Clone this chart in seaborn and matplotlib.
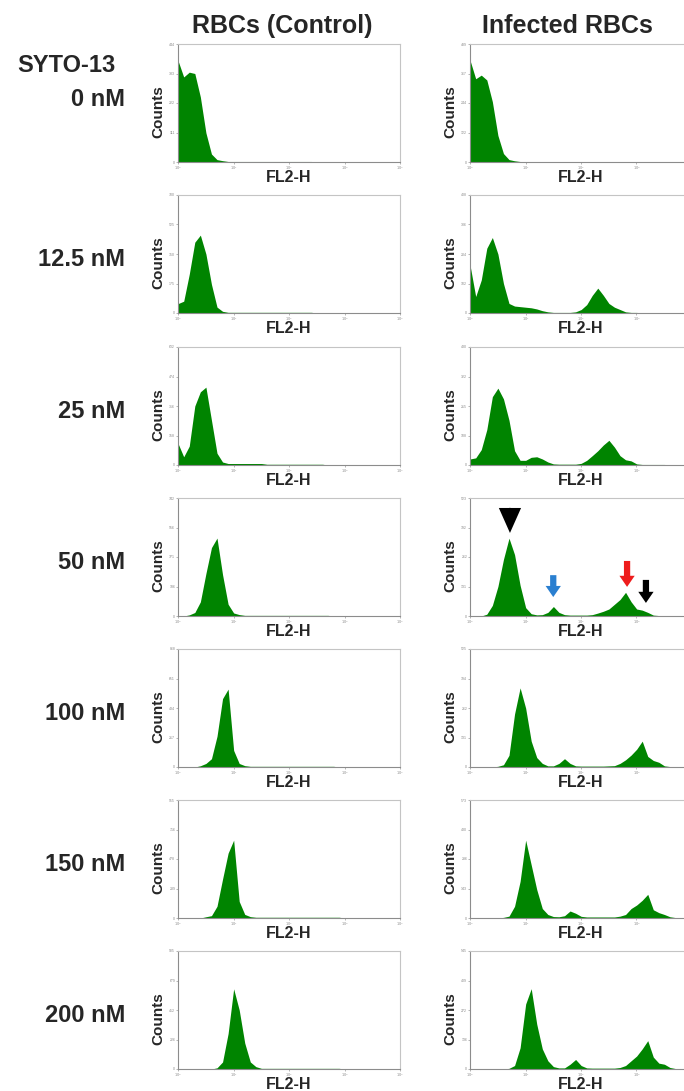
import numpy as np
import matplotlib
matplotlib.use("Agg")
import matplotlib.pyplot as plt
import seaborn as sns

# FL2-H channel grid, log10 units (10^0 .. 10^4)
log_fl2 = np.linspace(0, 4, 41)

row_labels = ['0 nM', '12.5 nM', '25 nM', '50 nM', '100 nM', '150 nM', '200 nM']
col_titles = ['RBCs (Control)', 'Infected RBCs']

# y-axis maximum of each panel (counts)
ctrl_ymax = [444, 700, 632, 742, 868, 955, 905]
inf_ymax = [489, 408, 430, 523, 525, 573, 545]

# counts, control RBCs
ctrl_0 = [380, 320, 338, 333, 245, 110, 30, 9, 5] + [2] * 16 + [0] * 16
ctrl_12 = [56, 70, 230, 420, 462, 350, 170, 35, 10] + [4] * 16 + [0] * 16
ctrl_25 = [114, 44, 101, 316, 392, 417, 240, 63, 16] + [8] * 7 + [4] * 11 + [0] * 14
ctrl_50 = [0, 0, 7, 22, 89, 267, 430, 490, 260, 74, 19, 9] + [4] * 16 + [0] * 13
ctrl_100 = [0, 0, 0, 0, 9, 26, 61, 226, 503, 573, 122, 26, 10] + [5] * 16 + [0] * 12
ctrl_150 = [0, 0, 0, 0, 0, 10, 19, 95, 315, 525, 630, 134, 29, 11] + [6] * 16 + [0] * 11
ctrl_200 = [0, 0, 0, 0, 0, 0, 0, 9, 54, 272, 615, 453, 199, 54, 18] + [5] * 15 + [0] * 11

# counts, infected RBCs
inf_0 = [420, 345, 360, 340, 250, 110, 35, 10, 5] + [2] * 17 + [0] * 15
inf_12 = [163, 57, 114, 224, 261, 204, 102, 33, 24, 22, 20, 18, 14, 8, 4, 2, 2, 2, 2, 4,
          12, 29, 61, 86, 61, 33, 20, 12, 4, 2, 2] + [0] * 10
inf_25 = [22, 26, 56, 129, 249, 280, 241, 163, 52, 17, 17, 28, 30, 22, 11, 4, 3, 3, 3, 3,
          6, 17, 34, 52, 73, 90, 65, 34, 19, 15, 4, 2, 2, 2, 2, 2, 0, 0, 0, 0, 0]
inf_50 = [0, 0, 0, 8, 47, 131, 251, 345, 272, 136, 37, 10, 5, 6, 16, 42, 16, 6, 4, 4,
          4, 4, 6, 13, 21, 31, 52, 73, 105, 63, 31, 26, 16, 4, 2, 2, 2, 2, 0, 0, 0]
inf_100 = [0, 0, 0, 0, 0, 3, 10, 52, 236, 352, 262, 115, 42, 16, 5, 5, 16, 37, 16, 5,
           4, 4, 4, 4, 4, 5, 6, 16, 32, 53, 79, 115, 47, 29, 21, 5, 2, 2, 2, 0, 0]
inf_150 = [0, 0, 0, 0, 0, 0, 3, 9, 57, 178, 378, 258, 138, 46, 17, 7, 6, 11, 34, 23,
           8, 5, 5, 5, 5, 5, 5, 9, 17, 46, 63, 86, 115, 40, 26, 17, 6, 2, 2, 0, 0]
inf_200 = [0, 0, 0, 0, 0, 0, 0, 3, 16, 98, 300, 371, 207, 93, 38, 11, 5, 5, 22, 44,
           16, 5, 4, 4, 4, 4, 4, 7, 16, 38, 60, 93, 131, 55, 27, 22, 7, 2, 2, 0, 0]

ctrl = [ctrl_0, ctrl_12, ctrl_25, ctrl_50, ctrl_100, ctrl_150, ctrl_200]
infected = [inf_0, inf_12, inf_25, inf_50, inf_100, inf_150, inf_200]

sns.set_theme(style='white')
plt.rcParams['font.family'] = ['Liberation Sans', 'DejaVu Sans']

W, H = 684, 1091
fig = plt.figure(figsize=(W / 100, H / 100), dpi=100)

green = '#008400'
col_left = [178, 470]
row_top = [44, 195, 347, 498, 649, 800, 951]
pw, ph = 222, 118


def draw_panel(ax, counts, ymax, cut_right):
    sns.histplot(x=10 ** log_fl2, weights=counts, log_scale=True, binwidth=0.1,
                 binrange=(-0.05, 4.05), element='poly', fill=True, color=green,
                 alpha=1, linewidth=0, ax=ax)
    ax.set_xlim(1, 1e4)
    ax.set_ylim(0, ymax)
    # the right-hand column runs past the page edge, so its last tick is lost
    decades = range(4) if cut_right else range(5)
    ax.set_xticks([10 ** k for k in decades])
    ax.set_xticklabels([r'$10^{%d}$' % k for k in decades])
    ax.minorticks_off()
    yt = [0, ymax / 4, ymax / 2, 3 * ymax / 4, ymax]
    ax.set_yticks(yt)
    ax.set_yticklabels([str(int(round(v))) for v in yt])
    ax.tick_params(length=1.5, width=0.5, color='#999999', labelsize=2.5,
                   labelcolor='#888888', pad=0.5, left=True, bottom=True)
    for side in ['left', 'bottom']:
        ax.spines[side].set_color('#8c8c8c')
    for side in ['top', 'right']:
        ax.spines[side].set_color('#c4c4c4')
    for sp in ax.spines.values():
        sp.set_linewidth(0.8)
    ax.set_xlabel('FL2-H', fontsize=11.5, fontweight='bold', va='center')
    ax.xaxis.set_label_coords(0.5, -0.135)
    ax.set_ylabel('Counts', fontsize=11, fontweight='bold', va='center')
    ax.yaxis.set_label_coords(-0.09, 0.43)


axes_50 = None
for r in range(7):
    for c, (data, ymaxs) in enumerate([(ctrl, ctrl_ymax), (infected, inf_ymax)]):
        ax = fig.add_axes([col_left[c] / W, 1 - (row_top[r] + ph) / H, pw / W, ph / H])
        draw_panel(ax, data[r], ymaxs[r], c == 1)
        if r == 3 and c == 1:
            axes_50 = ax

# arrows on the 50 nM infected histogram
arrow_specs = [
    (0.72, 368, 480, 'black', 0.5, 16, 18),
    (1.50, 84, 181, '#2a7fd0', 4.5, 11, 8),
    (2.83, 129, 244, '#ee1c1c', 4.5, 11, 8),
    (3.17, 58, 160, 'black', 4.5, 11, 8),
]
for lx, tip, tail, colr, wd, hw, hl in arrow_specs:
    axes_50.annotate('', xy=(10 ** lx, tip), xytext=(10 ** lx, tail),
                     arrowprops=dict(facecolor=colr, edgecolor='none', width=wd,
                                     headwidth=hw, headlength=hl, shrink=0))

# column titles and row labels
fig.text(282 / W, 1 - 33 / H, col_titles[0], ha='center', va='baseline',
         fontsize=18, fontweight='bold')
fig.text(567 / W, 1 - 33 / H, col_titles[1], ha='center', va='baseline',
         fontsize=18, fontweight='bold')
fig.text(17 / W, 1 - 72 / H, 'SYTO-13', ha='left', va='baseline',
         fontsize=17, fontweight='bold')
for r, lab in enumerate(row_labels):
    base = 106 if r == 0 else row_top[r] + 71
    fig.text(125 / W, 1 - base / H, lab, ha='right', va='baseline',
             fontsize=17, fontweight='bold')

fig.savefig('out.png', dpi=100)
